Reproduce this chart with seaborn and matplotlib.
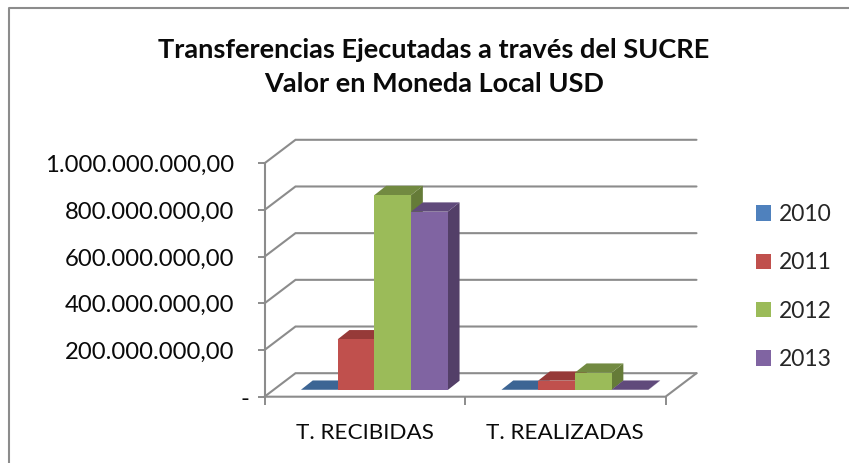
import matplotlib
matplotlib.use("Agg")
import matplotlib.pyplot as plt
from matplotlib.patches import Polygon, Rectangle
from matplotlib.lines import Line2D
from matplotlib.transforms import IdentityTransform, Affine2D
import numpy as np
import pandas as pd
import seaborn as sns

categories = ["T. RECIBIDAS", "T. REALIZADAS"]
years = ["2010", "2011", "2012", "2013"]
v2010 = [1e6, 1e6]
v2011 = [217e6, 40e6]
v2012 = [835e6, 74e6]
v2013 = [764e6, 1e6]
yticks = [0, 2e8, 4e8, 6e8, 8e8, 1e9]
ylabels = ["-", "200.000.000,00", "400.000.000,00", "600.000.000,00", "800.000.000,00", "1.000.000.000,00"]
title = "Transferencias Ejecutadas a través del SUCRE\nValor en Moneda Local USD"

front = ["#4F81BD", "#C0504D", "#9BBB59", "#8064A2"]
topc = ["#3C6594", "#963A38", "#728A41", "#604A7B"]
side = ["#345880", "#7F3230", "#657B38", "#533F68"]
GRAY = "#8C8C8C"
W, H = 849, 463
FONT = "Lato"

sns.set_theme(style="white")
plt.rcParams["font.family"] = [FONT, "DejaVu Sans"]

df = pd.DataFrame({
    "cat": categories * 4,
    "year": np.repeat(years, 2),
    "val": v2010 + v2011 + v2012 + v2013,
})

fig = plt.figure(figsize=(W / 100, H / 100), dpi=100, facecolor="white")
L, R, T, B = 264.5, 665.5, 163.3, 396.7
ax = fig.add_axes([L / W, 1 - B / H, (R - L) / W, (B - T) / H])
ax.patch.set_alpha(0)
sns.barplot(data=df, x="cat", y="val", hue="year", hue_order=years, palette=front,
            width=146.8 / 200.5, saturation=1, ax=ax, legend=True, edgecolor="none", linewidth=0)
ax.set_xlim(-0.5, 1.5)
ax.set_ylim(0, 1e9)
ax.set_xlabel("")
ax.set_ylabel("")
for s in ["top", "right", "left", "bottom"]:
    ax.spines[s].set_visible(False)

# axis ticks and labels
ax.set_yticks(yticks)
ax.set_yticklabels(ylabels, fontsize=17.2, color="#0A0A0A", va="center")
ax.tick_params(axis="y", length=5, width=1.4, color=GRAY, pad=17, left=True)
ax.yaxis.get_major_ticks()[0].set_pad(6)
ax.set_xticks([0, 1])
ax.set_xticklabels(categories, fontsize=16.2, color="#0A0A0A")
ax.set_xticks([-0.5, 0.5, 1.5], minor=True)
ax.tick_params(axis="x", which="major", length=0, pad=19, bottom=True)
ax.tick_params(axis="x", which="minor", length=6, width=1.4, color=GRAY, bottom=True)
for lab in ax.get_yticklabels():
    lab.set_transform(lab.get_transform() + Affine2D().translate(0, -2.5))

DX, DY = 31, 23.5       # wall depth in pixels
IX, IY = 9.6, 6.7       # inset of the bars from the front plane
BX, BY = 11.8, 9.3      # bar depth


def px(x, y):
    return ax.transData.transform((x, y))


def add_line(pts, z=1.5):
    pts = np.array(pts)
    fig.add_artist(Line2D(pts[:, 0], pts[:, 1], transform=IdentityTransform(), color=GRAY, lw=1.5,
                          zorder=z, solid_joinstyle="miter"))


# walls: grid lines run from the front axis over the side wall then along the back wall
for v in yticks:
    p = px(-0.5, v)
    q = px(1.5, v)
    add_line([p, p + (DX, DY), q + (DX, DY)])
p0 = px(-0.5, 0)
q0 = px(1.5, 0)
add_line([p0, q0, q0 + (DX, DY)])
add_line([p0, px(-0.5, 1e9)])

# bars: seaborn's patches are moved into the depth, with top and side faces added
bars = [b for b in ax.patches if isinstance(b, Rectangle) and b.get_width() > 0 and b.get_height() > 0]
bars.sort(key=lambda b: b.get_x())
for i, b in enumerate(bars):
    k = matplotlib.colors.to_hex(b.get_facecolor()).upper()
    n = front.index(k)
    x0, x1 = b.get_x(), b.get_x() + b.get_width()
    h = b.get_height()
    a = px(x0, h) + (IX, IY)
    c = px(x1, h) + (IX, IY)
    d = px(x1, 0) + (IX, IY)
    e = px(x0, 0) + (IX, IY)
    z = 3 + i
    fig.add_artist(Polygon([c, c + (BX, BY), d + (BX, BY), d], closed=True, transform=IdentityTransform(),
                           fc=side[n], ec="none", zorder=z))
    fig.add_artist(Polygon([a, a + (BX, BY), c + (BX, BY), c], closed=True, transform=IdentityTransform(),
                           fc=topc[n], ec="none", zorder=z))
    fig.add_artist(Polygon([a, c, d, e], closed=True, transform=IdentityTransform(),
                           fc=front[n], ec="none", zorder=z + 0.5))
    b.set_visible(False)

# chart frame
fig.add_artist(Line2D([8.5, 8.5, W], [0, H - 7.5, H - 7.5], transform=IdentityTransform(),
                      color="#8C8C8C", lw=1.5))

fig.text(434 / W, 1 - 67 / H, title, ha="center", va="center", fontsize=19.5, fontweight="bold",
         color="#0A0A0A", linespacing=1.45, family=[FONT, "DejaVu Sans"])

handles = [Rectangle((0, 0), 1, 1, fc=c, ec="none") for c in front]
ax.get_legend().remove()
fig.legend(handles, years, loc="center left", bbox_to_anchor=(749 / W, 1 - 287 / H), frameon=False,
           fontsize=16.5, handlelength=0.655, handleheight=0.655, handletextpad=0.35, labelspacing=1.19,
           borderpad=0.3, borderaxespad=0)

fig.savefig("out.png", dpi=100, facecolor="white")
